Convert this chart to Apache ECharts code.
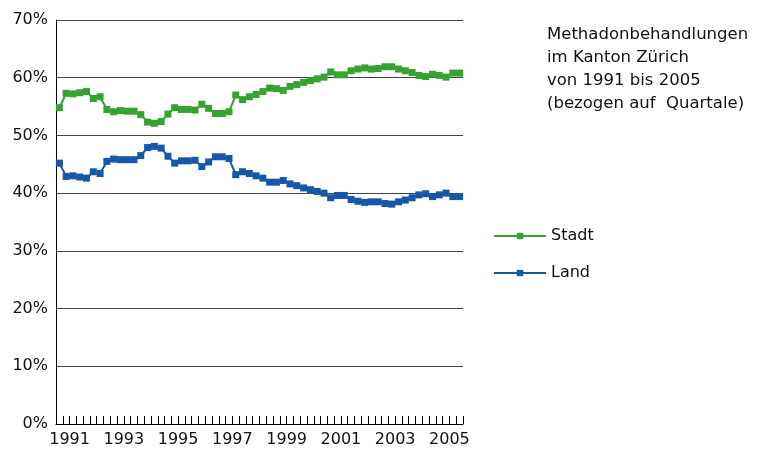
<!DOCTYPE html>
<html>
<head>
<meta charset="utf-8">
<script src="https://cdn.jsdelivr.net/npm/echarts@6/dist/echarts.min.js"></script>
<style>
  html, body { margin: 0; padding: 0; background: #fff; }
  #chart { width: 769px; height: 449px; }
</style>
</head>
<body>
<div id="chart"></div>
<script>
// Jahre (Achsenbeschriftung) und Quartale
var years = ['1991','1992','1993','1994','1995','1996','1997','1998','1999','2000','2001','2002','2003','2004','2005'];
var quarters = [];
years.forEach(function (y) {
  for (var q = 1; q <= 4; q++) quarters.push(y + ' Q' + q);
});

// Anteil Methadonbehandlungen in %, pro Quartal
var stadt = [
  54.8, 57.3, 57.2, 57.4, 57.6, 56.4, 56.7, 54.5, 54.1, 54.3,
  54.2, 54.2, 53.6, 52.3, 52.1, 52.4, 53.7, 54.8, 54.5, 54.5,
  54.4, 55.4, 54.7, 53.8, 53.8, 54.1, 57.0, 56.2, 56.7, 57.1,
  57.6, 58.2, 58.1, 57.8, 58.5, 58.8, 59.2, 59.5, 59.8, 60.1,
  61.0, 60.5, 60.5, 61.2, 61.5, 61.7, 61.5, 61.6, 61.9, 61.9,
  61.5, 61.2, 60.9, 60.4, 60.2, 60.6, 60.4, 60.1, 60.8, 60.8
];
var land = [
  45.2, 42.9, 43.0, 42.8, 42.6, 43.7, 43.4, 45.5, 45.9, 45.8,
  45.8, 45.8, 46.5, 47.9, 48.1, 47.8, 46.4, 45.2, 45.6, 45.6,
  45.7, 44.6, 45.4, 46.3, 46.3, 46.0, 43.2, 43.7, 43.4, 43.0,
  42.6, 41.9, 41.9, 42.2, 41.6, 41.3, 40.9, 40.6, 40.3, 40.0,
  39.2, 39.6, 39.6, 38.9, 38.6, 38.4, 38.5, 38.5, 38.2, 38.1,
  38.5, 38.8, 39.2, 39.7, 39.9, 39.4, 39.7, 40.0, 39.4, 39.4
];

var titel = 'Methadonbehandlungen\nim Kanton Zürich\nvon 1991 bis 2005\n(bezogen auf  Quartale)';

var font = 'DejaVu Sans';
var myChart = echarts.init(document.getElementById('chart'));
myChart.setOption({
  animation: false,
  title: {
    text: titel,
    left: 542,
    top: 18,
    textStyle: {
      fontFamily: font,
      fontSize: 16.5,
      fontWeight: 'normal',
      color: '#111',
      lineHeight: 23
    }
  },
  legend: {
    data: ['Stadt', 'Land'],
    orient: 'vertical',
    left: 488,
    top: 223,
    itemWidth: 52,
    itemHeight: 8,
    itemGap: 21,
    textStyle: { fontFamily: font, fontSize: 16, color: '#111' }
  },
  grid: {
    left: 56,
    right: 306,
    top: 20,
    bottom: 25,
    containLabel: false
  },
  xAxis: [{
    type: 'category',
    data: quarters,
    boundaryGap: true,
    axisLine: { show: true, lineStyle: { color: '#000', width: 1 } },
    // Quartals-Striche nach innen
    axisTick: { show: true, inside: true, length: 8, interval: 0, lineStyle: { color: '#000', width: 1 } },
    axisLabel: { show: false },
    splitLine: { show: false }
  }, {
    type: 'category',
    data: years,
    position: 'bottom',
    boundaryGap: true,
    axisLine: { show: false },
    axisTick: { show: false },
    axisLabel: {
      interval: 1,
      margin: 8,
      fontFamily: font,
      fontSize: 16,
      color: '#111'
    },
    splitLine: { show: false }
  }],
  yAxis: {
    type: 'value',
    min: 0,
    max: 70,
    interval: 10,
    axisLine: { show: true, lineStyle: { color: '#000', width: 1 } },
    axisTick: { show: false },
    axisLabel: {
      formatter: '{value}%',
      margin: 8,
      fontFamily: font,
      fontSize: 16,
      color: '#111'
    },
    splitLine: { show: true, lineStyle: { color: '#444', width: 1 } }
  },
  series: [{
    name: 'Stadt',
    type: 'line',
    xAxisIndex: 0,
    data: stadt,
    symbol: 'rect',
    symbolSize: 7,
    showAllSymbol: true,
    lineStyle: { color: '#35a32f', width: 2 },
    itemStyle: { color: '#35a32f' }
  }, {
    name: 'Land',
    type: 'line',
    xAxisIndex: 0,
    data: land,
    symbol: 'rect',
    symbolSize: 7,
    showAllSymbol: true,
    lineStyle: { color: '#1558a8', width: 2 },
    itemStyle: { color: '#1558a8' }
  }]
});
</script>
</body>
</html>
